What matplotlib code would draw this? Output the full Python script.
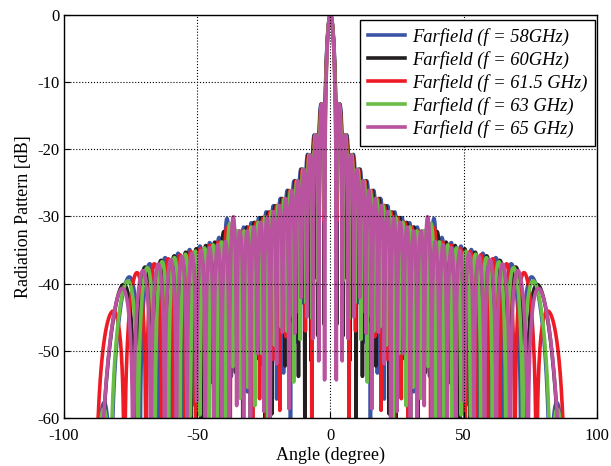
import numpy as np
import matplotlib
matplotlib.use("Agg")
import matplotlib.pyplot as plt

# ---- values ----
freqs_ghz = [58, 60, 61.5, 63, 65]
labels = ["Farfield (f = 58GHz)", "Farfield (f = 60GHz)", "Farfield (f = 61.5 GHz)",
          "Farfield (f = 63 GHz)", "Farfield (f = 65 GHz)"]
colors = ["#3a55a5", "#231f20", "#ed1c24", "#6abd45", "#b9529f"]
bump_angle_deg = [39.5, 38.6, 37.8, 37.0, 36.0]   # raised side-lobe position per frequency
bump_gain_db = [3.2, 3.0, 3.0, 3.0, 3.6]           # how far that lobe rises above its neighbours
n_elements = 65            # array size implied by null spacing near broadside
spacing_wl_at_65 = 0.4     # element spacing (wavelengths) at 65 GHz
edge_rolloff_db = 1.25     # element-pattern roll-off towards endfire
bump_width_deg = 1.0
angle_step_deg = 0.2
x_ticks = [-100, -50, 0, 50, 100]
y_ticks = [-60, -50, -40, -30, -20, -10, 0]

plt.rcParams['font.family'] = ['Liberation Serif', 'DejaVu Serif']
plt.rcParams['axes.unicode_minus'] = False


def array_factor(u, n, d):
    x = np.pi * d * u
    num = np.sin(n * x)
    den = n * np.sin(x)
    out = np.ones_like(u)
    ok = np.abs(den) > 1e-12
    out[ok] = num[ok] / den[ok]
    return out


theta = np.arange(-90, 90 + angle_step_deg / 2, angle_step_deg)
th = np.radians(theta)
u = np.sin(th)
sec = 1.0 / np.maximum(np.cos(th), 1e-9)
element_db = -edge_rolloff_db * (sec - 1.0)

fig = plt.figure(figsize=(6.11, 4.66), dpi=100)
ax = fig.add_axes([0.1047, 0.103, 0.977 - 0.1047, 0.968 - 0.103])

for f, lab, col, ba, bg in zip(freqs_ghz, labels, colors, bump_angle_deg, bump_gain_db):
    d = spacing_wl_at_65 * f / 65.0
    af = np.abs(array_factor(u, n_elements, d))
    gain = 10 ** (bg / 20) - 1
    bump = 1 + gain * (np.exp(-0.5 * ((theta - ba) / bump_width_deg) ** 2)
                       + np.exp(-0.5 * ((theta + ba) / bump_width_deg) ** 2))
    db = 20 * np.log10(np.maximum(af * bump, 1e-8)) + element_db
    db = np.maximum(db, -80)
    ax.plot(theta, db, color=col, lw=2.6, label=lab)

ax.set_xlim(-100, 100)
ax.set_ylim(-60, 0)
ax.set_xticks(x_ticks)
ax.set_yticks(y_ticks)
ax.tick_params(direction='in', labelsize=12, length=4)
ax.tick_params(axis='x', pad=7)
ax.tick_params(axis='y', pad=3)
ax.grid(True, linestyle=':', color='k', linewidth=0.8)
ax.set_axisbelow(False)
for s in ax.spines.values():
    s.set_linewidth(1.0)
ax.set_xlabel("Angle (degree)", fontsize=13, labelpad=2)
ax.set_ylabel("Radiation Pattern [dB]", fontsize=13, labelpad=4)

leg = ax.legend(loc='upper right', bbox_to_anchor=(0.997, 0.988),
                prop={'style': 'italic', 'size': 13.3}, fancybox=False, framealpha=1,
                edgecolor='k', handlelength=2.0, borderpad=0.45, labelspacing=0.27,
                handletextpad=0.35, borderaxespad=0.0)
leg.get_frame().set_linewidth(1.0)

fig.savefig("out.png", dpi=100)
